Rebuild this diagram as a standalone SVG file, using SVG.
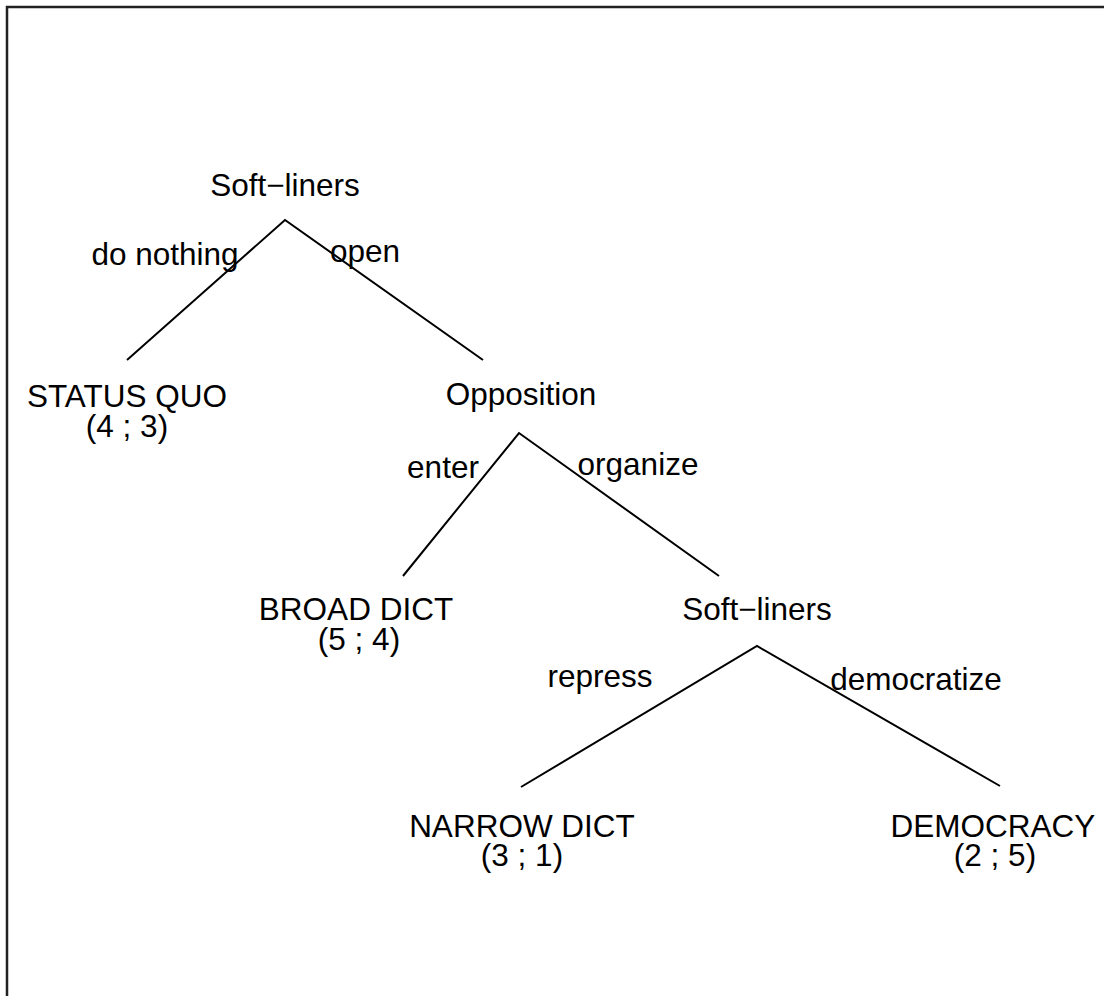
<svg xmlns="http://www.w3.org/2000/svg" width="1104" height="996" viewBox="0 0 1104 996">
  <style>
    text { font-family: "Liberation Sans", Arial, sans-serif; font-size: 31.5px; fill: #000; text-anchor: middle; }
    .edge { stroke: #000; stroke-width: 2; fill: none; }
  </style>
  <rect width="1104" height="996" fill="#fff"/>
  <!-- plot frame (top and left sides) -->
  <polyline points="7,996 7,7 1104,7" fill="none" stroke="#222" stroke-width="2.5"/>

  <g id="connectors">
    <polyline class="edge" points="127,360 285,220 483,360"/>
    <polyline class="edge" points="403,576 519,433 719,576"/>
    <polyline class="edge" points="521,787 757,646 1000,786"/>
  </g>

  <g id="edge-labels">
    <text x="165" y="265">do nothing</text>
    <text x="365" y="262">open</text>
    <text x="443" y="478">enter</text>
    <text x="638" y="475">organize</text>
    <text x="600" y="687">repress</text>
    <text x="916" y="690">democratize</text>
  </g>

  <g id="root">
    <text x="285" y="196">Soft−liners</text>
  </g>
  <g id="status-quo">
    <text x="127" y="407">STATUS QUO</text>
    <text x="127" y="437">(4 ; 3)</text>
  </g>
  <g id="opposition">
    <text x="521" y="405">Opposition</text>
  </g>
  <g id="broad-dict">
    <text x="356" y="620">BROAD DICT</text>
    <text x="359" y="650">(5 ; 4)</text>
  </g>
  <g id="soft-liners-2">
    <text x="757" y="620">Soft−liners</text>
  </g>
  <g id="narrow-dict">
    <text x="522" y="837">NARROW DICT</text>
    <text x="522" y="866">(3 ; 1)</text>
  </g>
  <g id="democracy">
    <text x="993" y="837">DEMOCRACY</text>
    <text x="995" y="866">(2 ; 5)</text>
  </g>
</svg>
